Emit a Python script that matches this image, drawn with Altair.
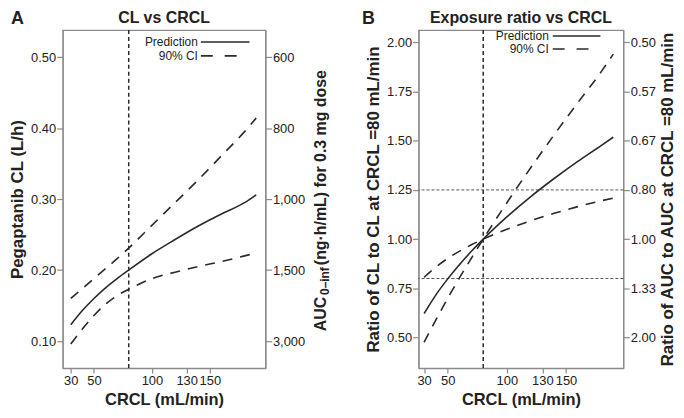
import altair as alt
import pandas as pd

FONT = "Liberation Sans"
INK = "#222222"
LINE = "#2a2a2a"
FRAME = "#8a8a8a"

# ---------------- data ----------------
crcl = [30, 40, 50, 60, 70, 80, 100, 120, 140, 160, 180, 190]
cl_pred = [0.123, 0.143, 0.160, 0.175, 0.188, 0.200, 0.223, 0.243, 0.262, 0.279, 0.295, 0.306]
cl_upper = [0.160, 0.174, 0.188, 0.202, 0.216, 0.231, 0.263, 0.295, 0.327, 0.361, 0.395, 0.414]
cl_lower = [0.096, 0.117, 0.136, 0.152, 0.164, 0.173, 0.188, 0.197, 0.205, 0.212, 0.220, 0.224]
ratio_pred = [0.622, 0.717, 0.798, 0.871, 0.938, 1.000, 1.113, 1.215, 1.308, 1.395, 1.476, 1.518]
ratio_ci_steep = [0.476, 0.590, 0.700, 0.804, 0.903, 1.000, 1.185, 1.361, 1.530, 1.693, 1.852, 1.940]
ratio_ci_flat = [0.806, 0.858, 0.902, 0.939, 0.971, 1.000, 1.050, 1.093, 1.131, 1.165, 1.195, 1.208]

ref_crcl = [80]
ratio_limits = [1.25, 0.8]
x_ticks = [30, 50, 100, 130, 150]
cl_ticks = [0.1, 0.2, 0.3, 0.4, 0.5]
auc_labels = ["3,000", "1,500", "1,000", "800", "600"]
ratio_ticks = [0.5, 0.75, 1.0, 1.25, 1.5, 1.75, 2.0]
auc_ratio_labels = ["2.00", "1.33", "1.00", "0.80", "0.67", "0.57", "0.50"]
legend_labels = ["Prediction", "90% CI"]
auc_title_parts = ["AUC", "0\u2013inf", "(ng\u00b7h/mL) for 0.3 mg dose"]
panel_titles = ["CL vs CRCL", "Exposure ratio vs CRCL"]
panel_tags = ["A", "B"]


def label_expr(ticks, labels):
    expr = "''"
    for t, l in zip(ticks, labels):
        expr = f"abs(datum.value - {t}) < 1e-6 ? '{l}' : ({expr})"
    return expr


def text_layer(txt, x, y, size=12, weight="normal", align="left", baseline="alphabetic", angle=0):
    kw = dict(align=align, baseline=baseline, fontSize=size, fontWeight=weight,
              font=FONT, color=INK)
    if angle:
        kw["angle"] = angle
    return alt.Chart(pd.DataFrame({"t": [txt]})).mark_text(**kw).encode(
        x=alt.value(x), y=alt.value(y), text="t:N")


def panel(title, tag, tag_x, pred, ci1, ci2, x_dom, y_dom, y_ticks, y_fmt, y_title,
          r_labels, r_title, W, H, leg, hlines):
    n = len(crcl)
    df = pd.DataFrame({
        "crcl": crcl * 3,
        "value": pred + ci1 + ci2,
        "series": ["pred"] * n + ["ci1"] * n + ["ci2"] * n,
    })
    xs = alt.Scale(domain=x_dom, nice=False, zero=False)
    ys = alt.Scale(domain=y_dom, nice=False, zero=False)
    x_axis = alt.Axis(values=x_ticks, format="d", title="CRCL (mL/min)", grid=False,
                      tickSize=5, labelPadding=2, titlePadding=4, titleFontSize=16.5,
                      labelFlush=False, labelOverlap=False)
    X = alt.X("crcl:Q", scale=xs, axis=x_axis)
    y_axis = alt.Axis(values=y_ticks, format=y_fmt, title=y_title, orient="left",
                      minExtent=32, maxExtent=32, titlePadding=4, tickSize=6,
                      labelPadding=1, grid=False)
    Y = alt.Y("value:Q", scale=ys, axis=y_axis)
    base = alt.Chart(df)
    pred_line = base.transform_filter("datum.series == 'pred'").mark_line(
        interpolate="monotone", color=LINE, strokeWidth=1.6).encode(x=X, y=Y)
    ci_lines = base.transform_filter("datum.series != 'pred'").mark_line(
        interpolate="monotone", color=LINE, strokeWidth=1.6, strokeDash=[10, 8]
    ).encode(x=X, y=Y, detail="series:N")
    vline = alt.Chart(pd.DataFrame({"crcl": ref_crcl})).mark_rule(
        color=LINE, strokeWidth=1.5, strokeDash=[4, 3]).encode(x=X)
    layers = [pred_line, ci_lines, vline]
    if hlines:
        hl = alt.Chart(pd.DataFrame({"value": hlines})).mark_rule(
            color=LINE, strokeWidth=0.8, strokeDash=[3, 2]).encode(y=Y)
        layers.append(hl)
    # legend (label left, line sample right)
    tx, lx0, lx1p, lx1c, ry0, ry1 = leg
    layers.append(text_layer(legend_labels[0], tx, ry0, size=12, align="right", baseline="middle"))
    layers.append(text_layer(legend_labels[1], tx, ry1, size=12, align="right", baseline="middle"))
    layers.append(alt.Chart(pd.DataFrame({"k": [0]})).mark_rule(color=LINE, strokeWidth=1.6).encode(
        x=alt.value(lx0), x2=alt.value(lx1p), y=alt.value(ry0)))
    layers.append(alt.Chart(pd.DataFrame({"k": [0]})).mark_rule(
        color=LINE, strokeWidth=1.6, strokeDash=[12, 12]).encode(
        x=alt.value(lx0), x2=alt.value(lx1c), y=alt.value(ry1)))
    # panel tag and panel title
    layers.append(text_layer(tag, tag_x, -20, size=18, weight="bold", baseline="top"))
    layers.append(text_layer(title, W / 2, -20, size=16, weight="bold", align="center", baseline="top"))

    r_axis_kw = dict(orient="right", values=y_ticks, labelExpr=label_expr(y_ticks, r_labels),
                     minExtent=32, maxExtent=32, tickSize=6, labelPadding=1, grid=False)
    if r_title:
        r_axis_kw.update(title=r_title, titleAngle=270, titleBaseline="top", titlePadding=4)
    else:
        r_axis_kw.update(title=None)
        a0 = H / 2 + 133
        layers.append(text_layer(auc_title_parts[0], W + 61, a0, size=16, weight="bold", angle=270))
        layers.append(text_layer(auc_title_parts[1], W + 64, a0 - 36.5, size=12, weight="bold", angle=270))
        layers.append(text_layer(auc_title_parts[2], W + 61, a0 - 66.5, size=16, weight="bold", angle=270))
    right = base.transform_filter("datum.series == 'pred'").mark_line(strokeOpacity=0).encode(
        x=X, y=alt.Y("value:Q", scale=ys, axis=alt.Axis(**r_axis_kw)))

    left = alt.layer(*layers)
    return alt.layer(left, right).resolve_scale(y="independent").properties(width=W, height=H)


H = 340
panel_a = panel(panel_titles[0], panel_tags[0], -52, cl_pred, cl_upper, cl_lower,
                [23, 198], [0.062, 0.538], cl_ticks, ".2f", "Pegaptanib CL (L/h)",
                auc_labels, None, 204, H, (136, 139, 188, 178, 12, 26), None)
panel_b = panel(panel_titles[1], panel_tags[1], -57, ratio_pred, ratio_ci_steep, ratio_ci_flat,
                [25.3, 198.5], [0.345, 2.062], ratio_ticks, ".2f",
                "Ratio of CL to CL at CRCL =80 mL/min",
                auc_ratio_labels, "Ratio of AUC to AUC at CRCL =80 mL/min", 206, H,
                (131, 135, 183, 172, 6, 19), ratio_limits)

chart = alt.hconcat(panel_a, panel_b, spacing=154, bounds="flush").properties(
    padding=0
).configure_axis(
    labelFont=FONT, titleFont=FONT, labelFontSize=13, titleFontSize=17,
    titleFontWeight="bold", labelColor=INK, titleColor=INK,
    domainColor=FRAME, tickColor=FRAME, domainWidth=1.2, tickWidth=1.2,
).configure_view(stroke=FRAME, strokeWidth=1.2)

chart.save("out.html", embed_options={"renderer": "svg", "actions": False})
